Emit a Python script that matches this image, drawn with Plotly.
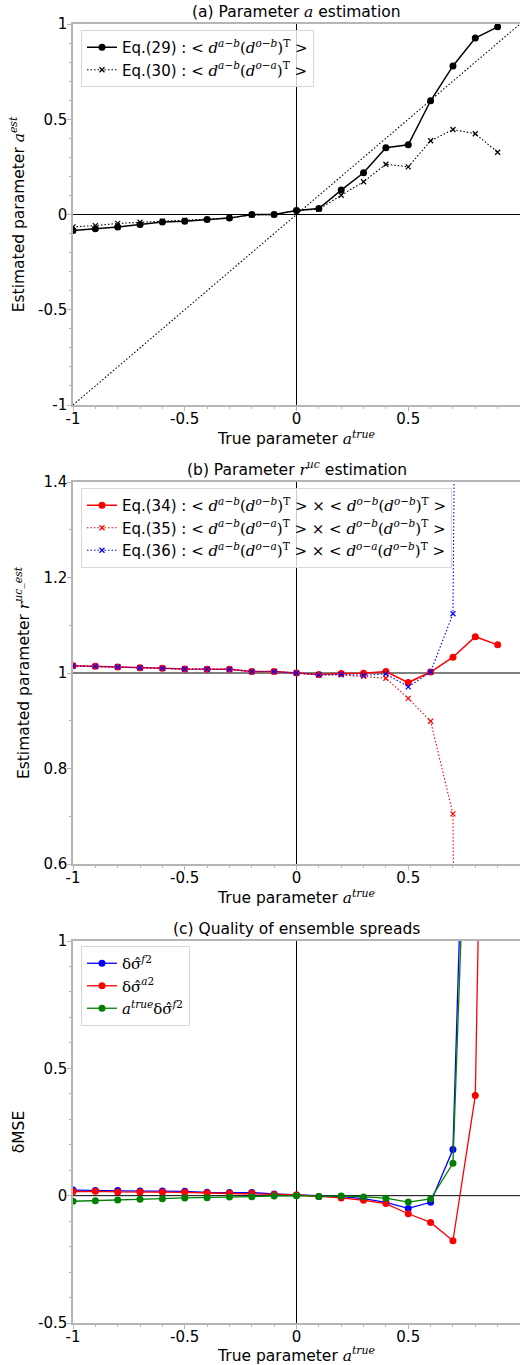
import plotly.graph_objects as go

# ---------------- data ----------------
a_true = [-1.0, -0.9, -0.8, -0.7, -0.6, -0.5, -0.4, -0.3, -0.2, -0.1,
          0.0, 0.1, 0.2, 0.3, 0.4, 0.5, 0.6, 0.7, 0.8, 0.9]

# panel (a)
eq29 = [-0.084, -0.075, -0.065, -0.052, -0.040, -0.035, -0.026, -0.019, 0.0, 0.0,
        0.021, 0.031, 0.128, 0.219, 0.350, 0.366, 0.597, 0.780, 0.926, 0.985]
eq30 = [-0.065, -0.058, -0.047, -0.040, -0.035, -0.030, -0.026, -0.018, -0.003, 0.0,
        0.021, 0.028, 0.101, 0.172, 0.264, 0.250, 0.387, 0.446, 0.424, 0.327]
diag_x = [-1.0, 1.0]
diag_y = [-1.0, 1.0]

# panel (b)
eq34 = [1.015, 1.014, 1.0126, 1.011, 1.0098, 1.0084, 1.008, 1.0077, 1.003, 1.003,
        1.0, 0.997, 0.999, 0.9995, 1.003, 0.980, 1.002, 1.033, 1.076, 1.059]
eq35 = [1.015, 1.014, 1.0126, 1.011, 1.0098, 1.0084, 1.008, 1.0077, 1.003, 1.003,
        1.0, 0.996, 0.996, 0.993, 0.989, 0.947, 0.899, 0.705, -4.5]
eq36 = [1.015, 1.014, 1.0126, 1.011, 1.0098, 1.0084, 1.008, 1.0077, 1.003, 1.003,
        1.0, 0.996, 0.997, 0.995, 0.998, 0.971, 1.002, 1.124, 6.6]

# panel (c)
ds_f = [0.022, 0.020, 0.020, 0.018, 0.018, 0.017, 0.013, 0.012, 0.012, 0.0066,
        0.003, -0.003, -0.004, -0.012, -0.026, -0.050, -0.026, 0.181, 3.1]
ds_a = [0.016, 0.017, 0.0145, 0.0145, 0.0145, 0.013, 0.0105, 0.009, 0.009, 0.005,
        0.003, -0.003, -0.009, -0.018, -0.031, -0.071, -0.105, -0.177, 0.393, 5.25]
a_ds_f = [-0.022, -0.020, -0.017, -0.0145, -0.012, -0.009, -0.008, -0.005, -0.004, -0.001,
          0.0, -0.003, -0.001, -0.005, -0.010, -0.025, -0.013, 0.127, 2.6]

x_ticks = [-1, -0.5, 0, 0.5, 1]
x_ticklabels = ["-1", "-0.5", "0", "0.5", "1"]
ya_ticks = [-1, -0.5, 0, 0.5, 1]
ya_labels = ["-1", "-0.5", "0", "0.5", "1"]
yb_ticks = [0.6, 0.8, 1.0, 1.2, 1.4]
yb_labels = ["0.6", "0.8", "1", "1.2", "1.4"]
yc_ticks = [-0.5, 0, 0.5, 1]
yc_labels = ["-0.5", "0", "0.5", "1"]

# ---------------- styling helpers ----------------
SANS = "DejaVu Sans"
SERIF = "DejaVu Serif"


def math(s):
    return f'<span style="font-family:{SERIF}">{s}</span>'


dab = "<i>d</i><sup><i>a</i>−<i>b</i></sup>"
dob = "<i>d</i><sup><i>o</i>−<i>b</i></sup>"
doa = "<i>d</i><sup><i>o</i>−<i>a</i></sup>"
Tt = "<sup>T</sup>"

lab29 = "Eq.(29) : " + math(f"&lt; {dab}({dob}){Tt} &gt;")
lab30 = "Eq.(30) : " + math(f"&lt; {dab}({doa}){Tt} &gt;")
lab34 = "Eq.(34) : " + math(f"&lt; {dab}({dob}){Tt} &gt; × &lt; {dob}({dob}){Tt} &gt;")
lab35 = "Eq.(35) : " + math(f"&lt; {dab}({doa}){Tt} &gt; × &lt; {dob}({dob}){Tt} &gt;")
lab36 = "Eq.(36) : " + math(f"&lt; {dab}({doa}){Tt} &gt; × &lt; {doa}({dob}){Tt} &gt;")

sig_f = math("δσ̂<sup><i>f</i>2</sup>")
sig_a = math("δσ̂<sup><i>a</i>2</sup>")
a_sig_f = math("<i>a</i><sup><i>true</i></sup>δσ̂<sup><i>f</i>2</sup>")

fig = go.Figure()

MS = 7
DOT = "1.5px,2px"

# ---------------- panel (a) ----------------
fig.add_trace(go.Scatter(x=diag_x, y=diag_y, mode="lines", showlegend=False,
                         line=dict(color="black", width=1.1, dash=DOT),
                         xaxis="x", yaxis="y", hoverinfo="skip"))
fig.add_trace(go.Scatter(x=a_true, y=eq29, mode="lines+markers", name=lab29,
                         line=dict(color="black", width=1.5),
                         marker=dict(symbol="circle", size=MS, color="black"),
                         xaxis="x", yaxis="y", legend="legend"))
fig.add_trace(go.Scatter(x=a_true, y=eq30, mode="lines+markers", name=lab30,
                         line=dict(color="black", width=1.1, dash=DOT),
                         marker=dict(symbol="x-thin-open", size=5, color="black",
                                     line=dict(width=1.2, color="black")),
                         xaxis="x", yaxis="y", legend="legend"))

# ---------------- panel (b) ----------------
fig.add_trace(go.Scatter(x=a_true, y=eq34, mode="lines+markers", name=lab34,
                         line=dict(color="red", width=1.5),
                         marker=dict(symbol="circle", size=MS, color="red"),
                         xaxis="x2", yaxis="y2", legend="legend2"))
fig.add_trace(go.Scatter(x=a_true[:len(eq35)], y=eq35, mode="lines+markers", name=lab35,
                         line=dict(color="red", width=1.1, dash=DOT),
                         marker=dict(symbol="x-thin-open", size=5, color="red",
                                     line=dict(width=1.2, color="red")),
                         xaxis="x2", yaxis="y2", legend="legend2"))
fig.add_trace(go.Scatter(x=a_true[:len(eq36)], y=eq36, mode="lines+markers", name=lab36,
                         line=dict(color="blue", width=1.1, dash=DOT),
                         marker=dict(symbol="x-thin-open", size=5, color="blue",
                                     line=dict(width=1.2, color="blue")),
                         xaxis="x2", yaxis="y2", legend="legend2"))

# ---------------- panel (c) ----------------
fig.add_trace(go.Scatter(x=a_true[:len(ds_f)], y=ds_f, mode="lines+markers", name=sig_f,
                         line=dict(color="blue", width=1.3),
                         marker=dict(symbol="circle", size=MS, color="blue"),
                         xaxis="x3", yaxis="y3", legend="legend3"))
fig.add_trace(go.Scatter(x=a_true[:len(ds_a)], y=ds_a, mode="lines+markers", name=sig_a,
                         line=dict(color="red", width=1.3),
                         marker=dict(symbol="circle", size=MS, color="red"),
                         xaxis="x3", yaxis="y3", legend="legend3"))
fig.add_trace(go.Scatter(x=a_true[:len(a_ds_f)], y=a_ds_f, mode="lines+markers", name=a_sig_f,
                         line=dict(color="green", width=1.3),
                         marker=dict(symbol="circle", size=MS, color="green"),
                         xaxis="x3", yaxis="y3", legend="legend3"))

# ---------------- layout ----------------
W, H = 520, 1365
x_dom = [73 / W, 1.0]
doms = {
    "a": [1 - 405 / H, 1 - 24 / H],
    "b": [1 - 864 / H, 1 - 482 / H],
    "c": [1 - 1323 / H, 1 - 941 / H],
}
SPINE = "#b5b5b5"
TICKF = dict(family=SANS, size=15, color="black")
TITLEF = dict(family=SANS, size=15.5, color="black")
xtitle = "True parameter " + math("<i>a</i><sup><i>true</i></sup>")


def xaxis(anchor):
    return dict(domain=x_dom, range=[-1, 1], anchor=anchor, automargin=False,
                tickmode="array", tickvals=x_ticks, ticktext=x_ticklabels,
                ticks="outside", ticklen=4, tickcolor=SPINE, tickwidth=1,
                ticklabelstandoff=-5,
                minor=dict(dtick=0.1, tick0=0, ticks="outside", ticklen=2,
                           tickcolor=SPINE, showgrid=False),
                showline=True, linecolor=SPINE, linewidth=1.5, mirror=True,
                showgrid=False, zeroline=False, tickfont=TICKF,
                title=dict(text=xtitle, font=TITLEF, standoff=0))


def yaxis(anchor, dom, rng, tv, tt, title):
    return dict(domain=dom, range=rng, anchor=anchor, automargin=False,
                tickmode="array", tickvals=tv, ticktext=tt,
                ticks="outside", ticklen=4, tickcolor=SPINE, tickwidth=1,
                ticklabelstandoff=-3,
                minor=dict(dtick=0.1, tick0=0, ticks="outside", ticklen=2,
                           tickcolor=SPINE, showgrid=False),
                showline=True, linecolor=SPINE, linewidth=1.5, mirror=True,
                showgrid=False, zeroline=False, tickfont=TICKF,
                title=dict(text=title, font=TITLEF, standoff=10))


def legend(y):
    return dict(x=81 / W, y=y, xanchor="left", yanchor="top",
                bgcolor="rgba(255,255,255,0.8)", bordercolor="#d8d8d8",
                borderwidth=1, font=dict(family=SANS, size=15, color="black"),
                tracegroupgap=4, itemwidth=30)


fig.update_layout(
    width=W, height=H,
    margin=dict(l=0, r=0, t=0, b=0, autoexpand=False),
    paper_bgcolor="white", plot_bgcolor="white",
    font=dict(family=SANS, size=15, color="black"),
    xaxis=xaxis("y"),
    yaxis=yaxis("x", doms["a"], [-1, 1], ya_ticks, ya_labels,
                "Estimated parameter " + math("<i>a</i><sup><i>est</i></sup>")),
    xaxis2=xaxis("y2"),
    yaxis2=yaxis("x2", doms["b"], [0.6, 1.4], yb_ticks, yb_labels,
                 "Estimated parameter " + math("<i>r</i><sup><i>uc_est</i></sup>")),
    xaxis3=xaxis("y3"),
    yaxis3=yaxis("x3", doms["c"], [-0.5, 1], yc_ticks, yc_labels, "δMSE"),
    legend=legend(1 - 30 / H),
    legend2=legend(1 - 488 / H),
    legend3=legend(1 - 946 / H),
    showlegend=True,
)

# reference lines (x=0 vertical, horizontal baseline)
for xa, ya, yline in [("x", "y", 0), ("x2", "y2", 1.0), ("x3", "y3", 0)]:
    fig.add_shape(type="line", xref=xa, yref=f"{ya} domain", x0=0, x1=0, y0=0, y1=1,
                  line=dict(color="black", width=1), layer="below")
    fig.add_shape(type="line", xref=f"{xa} domain", yref=ya, x0=0, x1=1, y0=yline, y1=yline,
                  line=dict(color="black", width=1), layer="below")

# panel titles
titles = [
    "(a) Parameter " + math("<i>a</i>") + " estimation",
    "(b) Parameter " + math("<i>r</i><sup><i>uc</i></sup>") + " estimation",
    "(c) Quality of ensemble spreads",
]
for txt, key in zip(titles, ["a", "b", "c"]):
    fig.add_annotation(text=txt, xref="paper", yref="paper",
                       x=(x_dom[0] + x_dom[1]) / 2, y=doms[key][1], yshift=1,
                       xanchor="center", yanchor="bottom", showarrow=False,
                       font=TITLEF)

fig.write_html("out.html",
               config={"displayModeBar": False},
               post_script="document.body.style.margin='0';"
                           "document.body.style.overflow='hidden';")
